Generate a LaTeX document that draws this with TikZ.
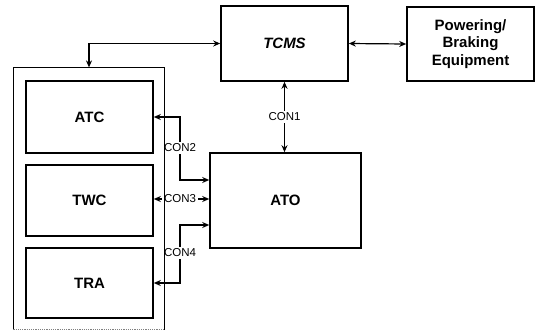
\documentclass[tikz,border=0pt]{standalone}
\usepackage{fontspec}
\setmainfont{Liberation Sans}
\usetikzlibrary{arrows.meta,positioning,calc}

\begin{document}
\begin{tikzpicture}[x=1pt, y=-1pt, line width=1.2pt,
  unit/.style={draw, line width=1.6pt, minimum width=127pt, align=center, font=\fontsize{15}{17.5}\selectfont\bfseries, inner sep=2pt},
  conlbl/.style={font=\fontsize{11.5}{13}\selectfont, inner sep=1.5pt},
  arr/.style={-{Stealth[length=7pt, width=6pt]}},
  darr/.style={{Stealth[length=7pt, width=6pt]}-{Stealth[length=7pt, width=6pt]}}]
\useasboundingbox (0,0) rectangle (535,330);
% onboard subsystems
\node[minimum width=150pt, minimum height=261pt, inner sep=0pt] (sys) at (89,198.5) {};
\draw[line width=1.6pt] (sys.south west) -- (sys.north west) -- (sys.north east) -- (sys.south east);
\draw[gray, densely dotted] (sys.south west) -- (sys.south east);
\node[unit, minimum height=72pt] (atc) at (89.5,117) {ATC};
\node[unit, minimum height=71pt] (twc) at (89.5,200.5) {TWC};
\node[unit, minimum height=70pt] (tra) at (89.5,283) {TRA};
% train side
\node[unit, minimum height=75pt, font=\fontsize{15}{17.5}\selectfont\bfseries\itshape] (tcms) at (284.5,43.5) {TCMS};
\node[unit, minimum height=74pt] (pbe) at (470.5,44) {Powering/\\Braking\\Equipment};
\node[unit, minimum width=151pt, minimum height=95pt] (ato) at (285.5,200.5) {ATO};
% links
\draw[darr] (sys.north) |- (tcms.west);
\draw[darr] (tcms.east) -- (pbe.west);
\draw[darr] (tcms.south) -- node[conlbl, fill=white]{CON1} (tcms.south |- ato.north);
\node[conlbl] (con2) at (180,148) {CON2};
\node[conlbl] (con3) at (180,199) {CON3};
\node[conlbl] (con4) at (180,253) {CON4};
\draw[arr] (con2) |- (atc.east);
\draw[arr] (con2) |- ([yshift=20.5pt]ato.west);
\draw[arr] (con3.west) -- (con3.west -| twc.east);
\draw[arr] (con3.east) -- (con3.east -| ato.west);
\draw[arr] (con4) |- (tra.east);
\draw[arr] (con4) |- ([yshift=-24.5pt]ato.west);
\end{tikzpicture}
\end{document}
